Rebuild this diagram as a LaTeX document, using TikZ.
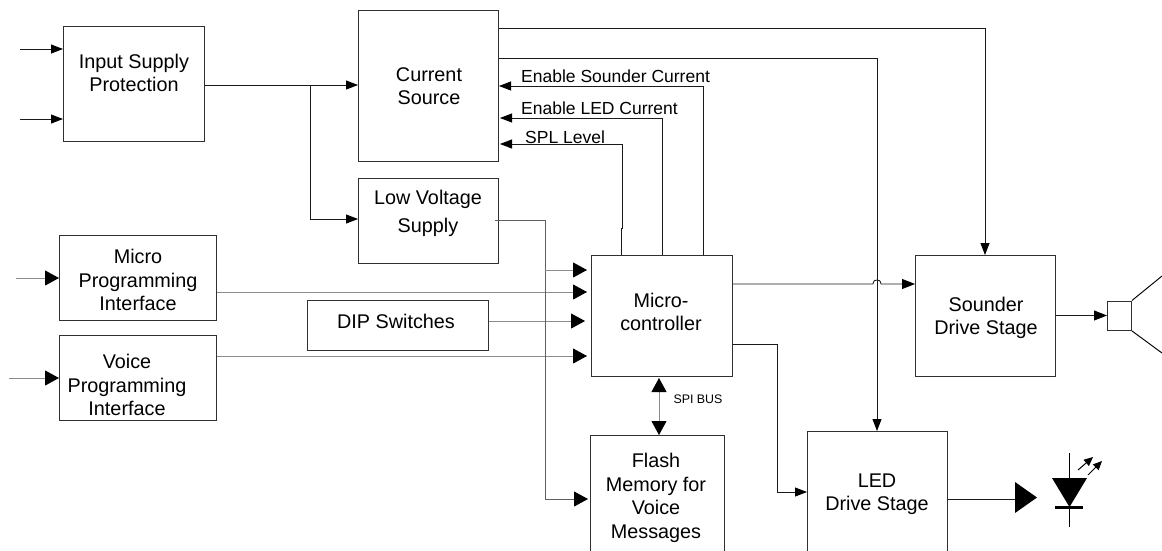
\documentclass[tikz,border=0pt]{standalone}
\usepackage{fontspec}
\setmainfont{Liberation Sans}
\usetikzlibrary{arrows.meta}
\definecolor{ln}{HTML}{1A1A1A}
\definecolor{thin}{HTML}{8C8C8C}
\definecolor{bx}{HTML}{303030}
\tikzset{
  blk/.style={draw=bx,line width=0.95pt,fill=none,inner sep=0pt,anchor=north west},
  txt/.style={align=center,inner sep=0pt,font=\fontsize{19.8}{23.5}\selectfont},
  sig/.style={font=\fontsize{17.5}{20}\selectfont,inner sep=0pt,anchor=base west},
  wire/.style={draw=ln,line width=0.85pt},
  gwire/.style={draw=thin,line width=0.85pt},
  smalltip/.style={-{Triangle[length=12pt,width=9pt,color=black]}},
  bigtip/.style={-{Triangle[length=14pt,width=15pt,color=black]}},
  glyph/.style={draw=black,line width=0.95pt}
}
\newcommand{\blockbox}[5]{\path (#2,#3) coordinate (#1-nw);
  \node[blk,minimum width=#4 pt-#2 pt,minimum height=#5 pt-#3 pt] (#1) at (#2,#3) {};}
\begin{document}
\begin{tikzpicture}[x=1pt,y=-1pt]
\useasboundingbox (0,0) rectangle (1162,550);
\clip (0,0) rectangle (1162,550);
\fill[white] (0,0) rectangle (1162,550);

\blockbox{isp}{63}{26}{204}{141}
\blockbox{cs}{358}{10}{498}{161}
\blockbox{lvs}{358}{178}{498}{263}
\blockbox{mpi}{59}{235}{216}{320}
\blockbox{vpi}{59}{335}{216}{420}
\blockbox{dip}{307}{300}{488}{350}
\blockbox{mcu}{591}{255}{732}{376}
\blockbox{sds}{915}{255}{1055}{376}
\blockbox{flash}{590}{435}{724}{560}
\blockbox{led}{807}{431}{947}{560}
\blockbox{spk}{1107}{300.5}{1131}{330}

\node[txt] (t1) at (134,73) {Input Supply\\Protection};
\node[txt] (t2) at (429,86) {Current\\Source};
\node[txt] (t3) at (428,213.5) {Low Voltage\\[5pt]Supply};
\node[txt] (t4) at (138,280) {Micro\\Programming\\Interface};
\node[txt] (t5) at (127,385) {Voice\\Programming\\Interface};
\node[txt] (t6) at (396,321) {DIP Switches};
\node[txt] (t7) at (661,312) {Micro-\\controller};
\node[txt] (t8) at (986,318) {Sounder\\Drive Stage};
\node[txt] (t9) at (656,498) {Flash\\Memory for\\Voice\\Messages};
\node[txt] (t10) at (877,494) {LED\\Drive Stage};

\node[sig] (l1) at (521,82) {Enable Sounder Current};
\node[sig] (l2) at (521,114) {Enable LED Current};
\node[sig] (l3) at (525,143) {SPL Level};
\node[font=\fontsize{12.4}{14}\selectfont,inner sep=0pt] (l4) at (698,399) {SPI BUS};

% free ends
\coordinate (in1) at (20,49);
\coordinate (in2) at (20,119);
\coordinate (in3) at (16,278);
\coordinate (in4) at (9,378);
\coordinate (j1) at (310,85);
\coordinate (j2) at (545,270);
\coordinate (spkt) at (1162,276);
\coordinate (spkb) at (1162,353);

% input protection and supply
\draw[wire,smalltip] (in1) -- (in1 -| isp.west);
\draw[wire,smalltip] (in2) -- (in2 -| isp.west);
\draw[wire,smalltip] (isp.east |- j1) -- (cs.west |- j1);
\draw[wire,smalltip] (j1) |- (lvs.west |- 0,219);

% current source outputs
\draw[wire,smalltip] (cs.east |- 0,28) -- (985,28) -- (985,255);
\draw[wire,smalltip] (cs.east |- 0,58) -- (877,58) -- (877,431);

% control signals
\draw[wire,smalltip] (703,255) -- (703,86) -- (499,86);
\draw[wire,smalltip] (662,255) -- (662,118) -- (500,118);
\draw[wire,smalltip] (621,255) -- (621,228) -- (622,228) -- (622,144) -- (500,144);

% programming inputs
\draw[gwire,bigtip] (in3) -- (mpi.west |- in3);
\draw[gwire,bigtip] (in4) -- (vpi.west |- in4);
\draw[gwire,bigtip] (mpi.east |- 0,292) -- (587,292);
\draw[gwire,bigtip] (dip.east |- 0,321) -- (585,321);
\draw[gwire,bigtip] (vpi.east |- 0,356) -- (587,356);

% low voltage supply
\draw[gwire,draw=ln!70,bigtip] (495,220) -- (545,220) -- (545,499) -- (588,499);
\draw[gwire,bigtip] (j2) -- (587,270);

% micro outputs
\draw[wire,-{Triangle[length=13pt,width=10pt,color=black]}] (mcu.east |- 0,284) -- (873,284) .. controls (873.5,280.5) and (875,280) .. (877,280) .. controls (879,280) and (880.5,280.5) .. (881,284) -- (sds.west |- 0,284);
\draw[wire,smalltip] (mcu.east |- 0,344) -- (777,344) -- (777,492) -- (led.west |- 0,492);

% SPI bus
\draw[gwire,{Triangle[length=14pt,width=15pt,color=black]}-{Triangle[length=14pt,width=15pt,color=black]}] (659,378) -- (659,435);

% sounder output and speaker cone
\draw[wire,-{Triangle[length=13pt,width=10pt,color=black]}] (sds.east |- 0,315.5) -- (spk.west |- 0,315.5);
\draw[glyph] (spk.north east) -- (spkt);
\draw[glyph] (spk.south east) -- (spkb);

% LED output and symbol
\draw[wire] (led.east |- 0,499) -- (1016,499);
\fill[black] (1015,482) -- (1037,497.5) -- (1015,513) -- cycle;
\fill[black] (1052,478) -- (1087,478) -- (1069.5,507) -- cycle;
\draw[black,line width=1.4pt] (1069.5,453) -- (1069.5,527);
\draw[black,line width=3pt] (1055,507.5) -- (1083,507.5);
\draw[black,line width=1pt,-{Triangle[length=9pt,width=8pt]}] (1078,470) -- (1093,457);
\draw[black,line width=1pt,-{Triangle[length=9pt,width=8pt]}] (1088,475) -- (1102,461);
\end{tikzpicture}
\end{document}
